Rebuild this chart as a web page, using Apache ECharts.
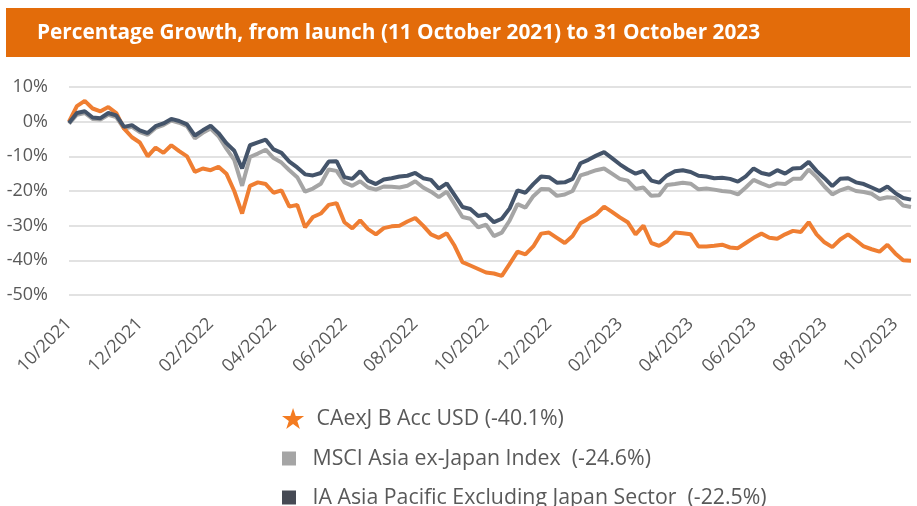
<!DOCTYPE html>
<html>
<head>
<meta charset="utf-8">
<script src="https://cdn.jsdelivr.net/npm/echarts@6/dist/echarts.min.js"></script>
<style>
  html, body { margin: 0; padding: 0; background: #fff; }
  #growth { width: 917px; height: 506px; }
</style>
</head>
<body>
<div id="growth"></div>
<script>
// weekly dates, launch 11 Oct 2021 to 31 Oct 2023
var dates = [
  '2021-10-11','2021-10-18','2021-10-25','2021-11-01','2021-11-08','2021-11-15','2021-11-22','2021-11-29','2021-12-06','2021-12-13',
  '2021-12-20','2021-12-27','2022-01-03','2022-01-10','2022-01-17','2022-01-24','2022-01-31','2022-02-07','2022-02-14','2022-02-21',
  '2022-02-28','2022-03-07','2022-03-14','2022-03-21','2022-03-28','2022-04-04','2022-04-11','2022-04-18','2022-04-25','2022-05-02',
  '2022-05-09','2022-05-16','2022-05-23','2022-05-30','2022-06-06','2022-06-13','2022-06-20','2022-06-27','2022-07-04','2022-07-11',
  '2022-07-18','2022-07-25','2022-08-01','2022-08-08','2022-08-15','2022-08-22','2022-08-29','2022-09-05','2022-09-12','2022-09-19',
  '2022-09-26','2022-10-03','2022-10-10','2022-10-17','2022-10-24','2022-10-31','2022-11-07','2022-11-14','2022-11-21','2022-11-28',
  '2022-12-05','2022-12-12','2022-12-19','2022-12-26','2023-01-02','2023-01-09','2023-01-16','2023-01-23','2023-01-30','2023-02-06',
  '2023-02-13','2023-02-20','2023-02-27','2023-03-06','2023-03-13','2023-03-20','2023-03-27','2023-04-03','2023-04-10','2023-04-17',
  '2023-04-24','2023-05-01','2023-05-08','2023-05-15','2023-05-22','2023-05-29','2023-06-05','2023-06-12','2023-06-19','2023-06-26',
  '2023-07-03','2023-07-10','2023-07-17','2023-07-24','2023-07-31','2023-08-07','2023-08-14','2023-08-21','2023-08-28','2023-09-04',
  '2023-09-11','2023-09-18','2023-09-25','2023-10-02','2023-10-09','2023-10-16','2023-10-23','2023-10-31'
];

// dates that carry an axis label (every 2 months from launch)
var labelDates = ['2021-10-11','2021-12-13','2022-02-14','2022-04-11','2022-06-13','2022-08-15',
  '2022-10-17','2022-12-12','2023-02-13','2023-04-17','2023-06-12','2023-08-14','2023-10-16'];

var yTicks = [10, 0, -10, -20, -30, -40, -50];

var fundName = 'CAexJ B Acc USD (-40.1%)';
var indexName = 'MSCI Asia ex-Japan Index  (-24.6%)';
var sectorName = 'IA Asia Pacific Excluding Japan Sector  (-22.5%)';

var fund = [
  0, 4.5, 6, 3.8, 3.0, 4.2, 2.5, -2.0, -4.5, -6,
  -10, -7.5, -9, -6.8, -8.5, -10, -14.5, -13.5, -14, -13,
  -15, -20, -26.5, -18.5, -17.5, -18, -20.5, -19.8, -24.5, -24,
  -30.5, -27.5, -26.5, -24, -23.5, -29, -30.8, -28.5, -31, -32.5,
  -30.7, -30.2, -30, -28.8, -27.8, -30, -32.5, -33.5, -32.2, -35.8,
  -40.5, -41.5, -42.5, -43.5, -43.8, -44.5, -41, -37.5, -38.3, -36,
  -32.3, -32, -33.5, -35, -33, -29.3, -28, -26.7, -24.5, -26,
  -27.6, -29, -32.5, -30, -35, -35.8, -34.5, -32, -32.2, -32.5,
  -36, -36, -35.8, -35.5, -36.3, -36.5, -35, -33.5, -32.3, -33.5,
  -33.8, -32.5, -31.5, -31.8, -29, -32.5, -34.8, -36.2, -34, -32.5,
  -34.2, -36, -36.8, -37.5, -35.5, -38, -40, -40.1
];

var msci = [
  -0.6, 2, 2.5, 0.8, 0.6, 2, 1.3, -2, -1.5, -3,
  -3.8, -1.8, -1, 0.3, -0.3, -1.3, -4.8, -3.2, -2, -4.2,
  -7.8, -11, -18.5, -10.2, -9.2, -8.1, -10.5, -11.8, -14, -16,
  -20.2, -19.3, -17.9, -13.8, -14.2, -17.5, -18.5, -17.2, -19, -19.6,
  -18.7, -18.8, -19, -18.5, -17.2, -19, -20.2, -21.8, -20.2, -23.8,
  -27.5, -28, -30.5, -29.7, -33, -32, -28.5, -23.8, -24.8, -21.5,
  -19.4, -19.5, -21.4, -21, -20, -15.5, -14.8, -14, -13.5, -15,
  -16.5, -17, -19.4, -19, -21.4, -21.2, -18.3, -18, -17.6, -17.9,
  -19.5, -19.3, -19.6, -20, -20.2, -21, -19, -16.8, -17.8, -18.7,
  -17.8, -18, -16.5, -16.5, -13.8, -16, -18.7, -21, -19.8, -19,
  -20, -20.3, -20.8, -22.3, -21.8, -22, -24.2, -24.6
];

var sector = [
  -0.4, 2.5, 3, 1.2, 1, 2.5, 1.8, -1.5, -1, -2.5,
  -3.3, -1.3, -0.5, 0.8, 0.2, -0.8, -4, -2.5, -1.2, -3.3,
  -6.2, -8.4, -13.5, -6.8, -6, -5.2, -8, -9, -11.5, -13.2,
  -15.2, -15.5, -14.8, -11.5, -11.4, -16, -16.5, -14.3, -17, -18,
  -16.7, -16.3, -15.8, -15.6, -14.8, -16.3, -16.8, -19.3, -17.8, -21.2,
  -24.6, -25.2, -27.2, -26.8, -29, -28, -25, -19.8, -20.5, -18,
  -15.8, -16, -17.6, -17.5, -16.5, -12, -11, -9.8, -8.8, -10.5,
  -12.3, -13.8, -15, -14.2, -17, -17.6, -15.5, -14.3, -14, -14.5,
  -15.6, -15.8, -16.3, -16.2, -16.5, -17.3, -15.8, -13.5, -14.8, -15.3,
  -14, -15, -13.5, -13.4, -11.6, -14.2, -16.3, -18.6, -16.5, -16.3,
  -17.5, -18, -19, -20, -18.7, -20.6, -22, -22.5
];

var orange = '#EF7E32';
var grey = '#A5A5A5';
var navy = '#44546A';
var textGrey = '#595959';
var font = "'Open Sans', sans-serif";

var starIcon = 'path://M12,0L14.9,8.6L24,8.6L16.6,14L19.4,22.8L12,17.4L4.6,22.8L7.4,14L0,8.6L9.1,8.6Z';
var squareIcon = 'path://M0,0H10V10H0Z';

function legendBlock(name, icon, color, top, h){
  return {
    left: 277,
    top: top,
    orient: 'vertical',
    itemWidth: 37,
    itemHeight: h,
    selectedMode: false,
    data: [{ name: name, icon: icon, itemStyle: { color: color } }],
    textStyle: { color: textGrey, fontSize: 21.3, fontFamily: font }
  };
}

function lineSeries(name, data, color){
  return {
    name: name,
    type: 'line',
    data: data,
    showSymbol: false,
    symbol: 'none',
    lineStyle: { width: 4, color: color },
    itemStyle: { color: color },
    emphasis: { disabled: true }
  };
}

var option = {
  animation: false,
  textStyle: { fontFamily: font },
  graphic: [{
    type: 'rect',
    shape: { x: 6, y: 8, width: 904, height: 49 },
    style: { fill: '#E36C0A' },
    silent: true
  }],
  title: {
    text: 'Percentage Growth, from launch (11 October 2021) to 31 October 2023',
    left: 32,
    top: 18,
    textStyle: { color: '#fff', fontSize: 20.8, fontWeight: 'bold', fontFamily: font }
  },
  legend: [
    legendBlock(fundName, starIcon, '#F47B20', 403, 21),
    legendBlock(indexName, squareIcon, grey, 443, 14),
    legendBlock(sectorName, squareIcon, '#464A54', 482, 14)
  ],
  grid: { left: 69, right: 6, top: 87, height: 208 },
  xAxis: {
    type: 'category',
    data: dates,
    boundaryGap: false,
    axisLine: { show: false },
    axisTick: { show: false },
    axisLabel: {
      rotate: 45,
      margin: 26,
      color: textGrey,
      fontSize: 18,
      fontFamily: font,
      interval: function(index, value){ return labelDates.indexOf(value) >= 0; },
      formatter: function(value){ return value.slice(5, 7) + '/' + value.slice(0, 4); }
    }
  },
  yAxis: {
    type: 'value',
    min: yTicks[yTicks.length - 1],
    max: yTicks[0],
    interval: 10,
    axisLine: { show: false },
    axisTick: { show: false },
    splitLine: { lineStyle: { color: '#D9D9D9', width: 1.5 } },
    axisLabel: {
      margin: 21,
      color: textGrey,
      fontSize: 18,
      fontFamily: font,
      formatter: '{value}%'
    }
  },
  series: [
    lineSeries(indexName, msci, grey),
    lineSeries(fundName, fund, orange),
    lineSeries(sectorName, sector, navy)
  ]
};

var chart = echarts.init(document.getElementById('growth'));
chart.setOption(option);
window.addEventListener('resize', function(){
  chart.resize();
});
</script>
</body>
</html>
